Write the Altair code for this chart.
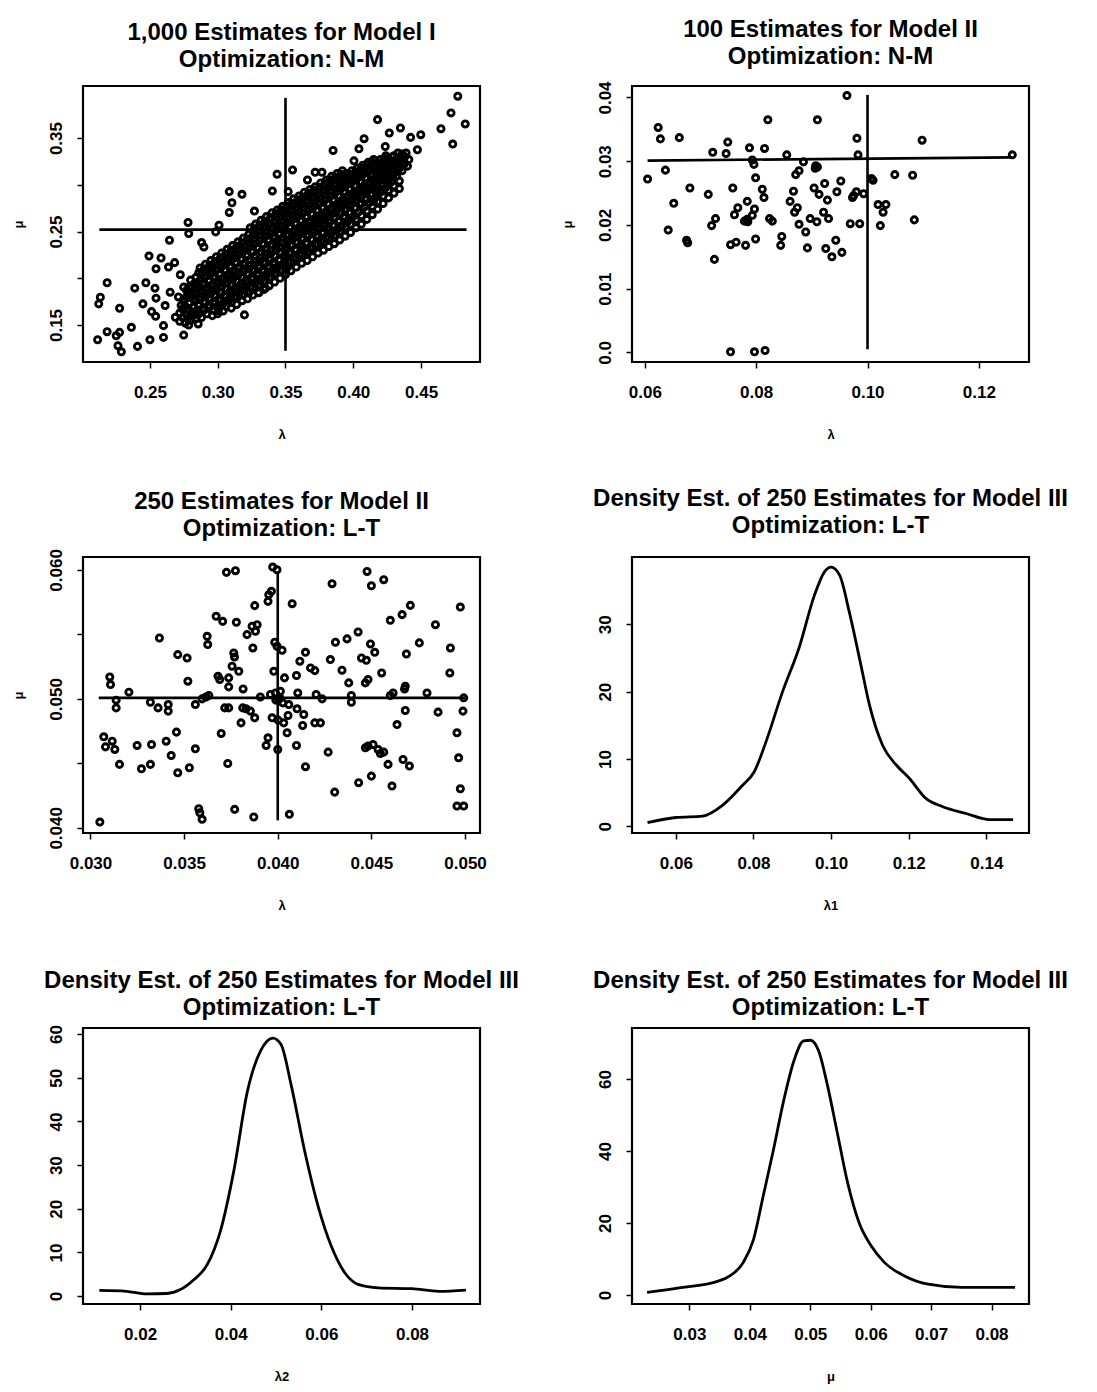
import altair as alt
import pandas as pd

FONT = "Liberation Sans"

# ---------------- Panel 1: 1,000 Estimates for Model I (lambda, mu) ----------------
p1_outliers = [
    (0.4771, 0.3948), (0.4721, 0.3769), (0.4826, 0.3651), (0.4647, 0.3600), (0.4734, 0.3436),
    (0.4179, 0.3697), (0.4348, 0.3608), (0.4266, 0.3554), (0.4498, 0.3536), (0.4423, 0.3507),
    (0.4473, 0.3375), (0.4080, 0.3493), (0.4236, 0.3410), (0.3851, 0.3367), (0.4042, 0.3385),
    (0.4005, 0.3256), (0.4149, 0.2826), (0.4204, 0.2944), (0.4167, 0.3016), (0.4366, 0.3285),
    (0.4279, 0.3213), (0.3552, 0.3159), (0.3438, 0.3113), (0.3403, 0.2934), (0.3179, 0.2898),
    (0.3085, 0.2927), (0.3105, 0.2808), (0.3520, 0.2927), (0.3662, 0.3052), (0.3719, 0.3134),
    (0.3769, 0.3134), (0.3968, 0.2640), (0.3271, 0.2719), (0.3085, 0.2704), (0.2781, 0.2597),
    (0.2786, 0.2478), (0.3010, 0.2568), (0.2644, 0.2407), (0.2881, 0.2382), (0.2493, 0.2238),
    (0.2582, 0.2217), (0.2545, 0.2102), (0.2637, 0.2120), (0.2682, 0.2167), (0.2724, 0.2038),
    (0.2749, 0.1905), (0.2184, 0.1952), (0.2134, 0.1797), (0.2122, 0.1726), (0.2388, 0.1894),
    (0.2470, 0.1952), (0.2537, 0.1894), (0.2545, 0.1787), (0.2448, 0.1726), (0.2512, 0.1643),
    (0.2542, 0.1593), (0.2276, 0.1679), (0.2612, 0.1708), (0.2687, 0.1582), (0.2786, 0.1500),
    (0.2363, 0.1475), (0.2276, 0.1421), (0.2251, 0.1385), (0.2184, 0.1428), (0.2114, 0.1342),
    (0.2264, 0.1278), (0.2289, 0.1213), (0.2408, 0.1271), (0.2500, 0.1342), (0.2600, 0.1493),
    (0.2600, 0.1367), (0.2749, 0.1392), (0.2856, 0.1511), (0.3005, 0.1654), (0.3197, 0.1608),
    (0.3229, 0.1844), (0.3303, 0.1844), (0.3353, 0.1894), (0.3010, 0.1762), (0.3507, 0.2102),
    (0.3632, 0.2317), (0.3719, 0.2496), (0.3794, 0.2586), (0.3881, 0.2747), (0.2649, 0.1851),
    (0.2898, 0.2335), (0.2985, 0.2496),
]

p1_core = [
    (0.272, 0.154), (0.272, 0.163), (0.273, 0.171), (0.271, 0.180),
    (0.276, 0.152), (0.277, 0.161), (0.276, 0.170), (0.275, 0.178), (0.277, 0.187),
    (0.280, 0.155), (0.281, 0.164), (0.279, 0.173), (0.280, 0.181), (0.281, 0.190), (0.280, 0.198),
    (0.284, 0.157), (0.285, 0.166), (0.283, 0.175), (0.284, 0.184), (0.285, 0.193), (0.284, 0.201),
    (0.288, 0.158), (0.289, 0.168), (0.287, 0.177), (0.288, 0.186), (0.289, 0.195), (0.288, 0.204), (0.287, 0.211),
    (0.292, 0.162), (0.293, 0.171), (0.291, 0.180), (0.292, 0.189), (0.293, 0.198), (0.292, 0.207), (0.291, 0.215),
    (0.296, 0.166), (0.297, 0.175), (0.295, 0.184), (0.296, 0.193), (0.297, 0.202), (0.296, 0.211), (0.295, 0.219),
    (0.300, 0.169), (0.301, 0.178), (0.299, 0.187), (0.300, 0.196), (0.301, 0.205), (0.300, 0.214), (0.299, 0.223),
    (0.304, 0.173), (0.305, 0.182), (0.303, 0.191), (0.304, 0.200), (0.305, 0.209), (0.304, 0.218), (0.303, 0.227),
    (0.308, 0.176), (0.309, 0.186), (0.307, 0.195), (0.308, 0.204), (0.309, 0.213), (0.308, 0.222), (0.307, 0.231),
    (0.312, 0.180), (0.313, 0.190), (0.311, 0.199), (0.312, 0.208), (0.313, 0.217), (0.312, 0.226), (0.311, 0.235),
    (0.316, 0.184), (0.317, 0.194), (0.315, 0.203), (0.316, 0.212), (0.317, 0.221), (0.316, 0.230), (0.315, 0.239),
    (0.320, 0.188), (0.321, 0.198), (0.319, 0.207), (0.320, 0.216), (0.321, 0.225), (0.320, 0.234), (0.319, 0.243),
    (0.324, 0.191), (0.325, 0.201), (0.323, 0.210), (0.324, 0.220), (0.325, 0.229), (0.324, 0.238), (0.323, 0.247), (0.324, 0.254),
    (0.328, 0.195), (0.329, 0.205), (0.327, 0.214), (0.328, 0.224), (0.329, 0.233), (0.328, 0.242), (0.327, 0.251), (0.328, 0.258),
    (0.332, 0.199), (0.333, 0.209), (0.331, 0.218), (0.332, 0.228), (0.333, 0.237), (0.332, 0.246), (0.331, 0.255), (0.332, 0.262),
    (0.336, 0.203), (0.337, 0.213), (0.335, 0.222), (0.336, 0.232), (0.337, 0.241), (0.336, 0.250), (0.335, 0.259), (0.336, 0.266),
    (0.340, 0.207), (0.341, 0.217), (0.339, 0.226), (0.340, 0.236), (0.341, 0.245), (0.340, 0.254), (0.339, 0.263), (0.340, 0.270),
    (0.344, 0.211), (0.345, 0.220), (0.343, 0.230), (0.344, 0.239), (0.345, 0.248), (0.344, 0.257), (0.343, 0.266), (0.344, 0.273),
    (0.348, 0.214), (0.349, 0.224), (0.347, 0.233), (0.348, 0.243), (0.349, 0.252), (0.348, 0.261), (0.347, 0.270), (0.348, 0.277),
    (0.352, 0.218), (0.353, 0.228), (0.351, 0.237), (0.352, 0.246), (0.353, 0.255), (0.352, 0.264), (0.351, 0.273), (0.352, 0.281),
    (0.356, 0.222), (0.357, 0.231), (0.355, 0.241), (0.356, 0.250), (0.357, 0.259), (0.356, 0.268), (0.355, 0.277), (0.356, 0.285),
    (0.360, 0.226), (0.361, 0.235), (0.359, 0.244), (0.360, 0.253), (0.361, 0.262), (0.360, 0.271), (0.359, 0.280), (0.360, 0.288),
    (0.364, 0.229), (0.365, 0.238), (0.363, 0.248), (0.364, 0.257), (0.365, 0.266), (0.364, 0.275), (0.363, 0.284), (0.364, 0.292),
    (0.368, 0.233), (0.369, 0.242), (0.367, 0.251), (0.368, 0.260), (0.369, 0.269), (0.368, 0.278), (0.367, 0.287), (0.368, 0.295),
    (0.372, 0.236), (0.373, 0.246), (0.371, 0.255), (0.372, 0.264), (0.373, 0.273), (0.372, 0.282), (0.371, 0.291), (0.372, 0.298),
    (0.376, 0.240), (0.377, 0.249), (0.375, 0.258), (0.376, 0.267), (0.377, 0.276), (0.376, 0.285), (0.375, 0.294), (0.376, 0.302),
    (0.380, 0.244), (0.381, 0.253), (0.379, 0.262), (0.380, 0.271), (0.381, 0.280), (0.380, 0.289), (0.379, 0.298), (0.380, 0.305),
    (0.384, 0.248), (0.385, 0.257), (0.383, 0.266), (0.384, 0.275), (0.385, 0.284), (0.384, 0.293), (0.383, 0.301), (0.384, 0.309),
    (0.388, 0.252), (0.389, 0.261), (0.387, 0.270), (0.388, 0.279), (0.389, 0.288), (0.388, 0.296), (0.387, 0.305), (0.388, 0.312),
    (0.392, 0.257), (0.393, 0.266), (0.391, 0.275), (0.392, 0.284), (0.393, 0.292), (0.392, 0.300), (0.391, 0.308), (0.392, 0.315),
    (0.396, 0.261), (0.397, 0.270), (0.395, 0.279), (0.396, 0.288), (0.397, 0.296), (0.396, 0.304), (0.395, 0.312),
    (0.400, 0.266), (0.401, 0.275), (0.399, 0.283), (0.400, 0.291), (0.401, 0.299), (0.400, 0.307), (0.399, 0.315),
    (0.404, 0.271), (0.405, 0.279), (0.403, 0.287), (0.404, 0.295), (0.405, 0.303), (0.404, 0.311), (0.403, 0.318),
    (0.408, 0.276), (0.409, 0.284), (0.407, 0.292), (0.408, 0.299), (0.409, 0.307), (0.408, 0.314), (0.407, 0.321),
    (0.412, 0.281), (0.413, 0.289), (0.411, 0.296), (0.412, 0.303), (0.413, 0.310), (0.412, 0.317), (0.411, 0.324),
    (0.416, 0.286), (0.417, 0.293), (0.415, 0.300), (0.416, 0.307), (0.417, 0.314), (0.416, 0.321), (0.415, 0.327),
    (0.420, 0.292), (0.421, 0.299), (0.419, 0.306), (0.420, 0.313), (0.421, 0.320), (0.420, 0.327),
    (0.424, 0.297), (0.425, 0.304), (0.423, 0.311), (0.424, 0.318), (0.425, 0.325), (0.424, 0.331),
    (0.428, 0.303), (0.429, 0.310), (0.427, 0.317), (0.428, 0.323), (0.429, 0.330),
    (0.432, 0.309), (0.433, 0.316), (0.431, 0.322), (0.432, 0.328), (0.433, 0.334),
    (0.436, 0.315), (0.437, 0.321), (0.435, 0.327), (0.436, 0.333),
    (0.440, 0.320), (0.441, 0.327), (0.439, 0.334),
]

p1_core_b = [
    (0.274, 0.158), (0.274, 0.167), (0.275, 0.175),
    (0.278, 0.157), (0.278, 0.166), (0.279, 0.174), (0.278, 0.183), (0.279, 0.191),
    (0.282, 0.160), (0.282, 0.169), (0.283, 0.178), (0.282, 0.186), (0.283, 0.195),
    (0.286, 0.162), (0.286, 0.171), (0.287, 0.180), (0.286, 0.189), (0.287, 0.198), (0.286, 0.206),
    (0.290, 0.166), (0.290, 0.175), (0.291, 0.184), (0.290, 0.193), (0.291, 0.202), (0.290, 0.210),
    (0.294, 0.169), (0.294, 0.178), (0.295, 0.188), (0.294, 0.197), (0.295, 0.206), (0.294, 0.214),
    (0.298, 0.173), (0.298, 0.182), (0.299, 0.191), (0.298, 0.200), (0.299, 0.209), (0.298, 0.218),
    (0.302, 0.176), (0.302, 0.185), (0.303, 0.195), (0.302, 0.204), (0.303, 0.213), (0.302, 0.222),
    (0.306, 0.180), (0.306, 0.189), (0.307, 0.199), (0.306, 0.208), (0.307, 0.217), (0.306, 0.226),
    (0.310, 0.183), (0.310, 0.193), (0.311, 0.203), (0.310, 0.212), (0.311, 0.221), (0.310, 0.230),
    (0.314, 0.187), (0.314, 0.197), (0.315, 0.206), (0.314, 0.216), (0.315, 0.225), (0.314, 0.234),
    (0.318, 0.191), (0.318, 0.201), (0.319, 0.210), (0.318, 0.220), (0.319, 0.229), (0.318, 0.238),
    (0.322, 0.195), (0.322, 0.205), (0.323, 0.214), (0.322, 0.224), (0.323, 0.233), (0.322, 0.242),
    (0.326, 0.199), (0.326, 0.209), (0.327, 0.218), (0.326, 0.228), (0.327, 0.237), (0.326, 0.246), (0.327, 0.253),
    (0.330, 0.203), (0.330, 0.213), (0.331, 0.222), (0.330, 0.232), (0.331, 0.241), (0.330, 0.250), (0.331, 0.257),
    (0.334, 0.207), (0.334, 0.217), (0.335, 0.226), (0.334, 0.236), (0.335, 0.245), (0.334, 0.254), (0.335, 0.261),
    (0.338, 0.211), (0.338, 0.221), (0.339, 0.230), (0.338, 0.240), (0.339, 0.249), (0.338, 0.258), (0.339, 0.265),
    (0.342, 0.215), (0.342, 0.224), (0.343, 0.234), (0.342, 0.243), (0.343, 0.252), (0.342, 0.261), (0.343, 0.269),
    (0.346, 0.219), (0.346, 0.228), (0.347, 0.238), (0.346, 0.247), (0.347, 0.256), (0.346, 0.265), (0.347, 0.273),
    (0.350, 0.222), (0.350, 0.232), (0.351, 0.241), (0.350, 0.251), (0.351, 0.260), (0.350, 0.269), (0.351, 0.277),
    (0.354, 0.226), (0.354, 0.236), (0.355, 0.245), (0.354, 0.254), (0.355, 0.263), (0.354, 0.272), (0.355, 0.280),
    (0.358, 0.230), (0.358, 0.239), (0.359, 0.249), (0.358, 0.258), (0.359, 0.267), (0.358, 0.276), (0.359, 0.284),
    (0.362, 0.234), (0.362, 0.243), (0.363, 0.252), (0.362, 0.261), (0.363, 0.270), (0.362, 0.279), (0.363, 0.287),
    (0.366, 0.237), (0.366, 0.247), (0.367, 0.256), (0.366, 0.265), (0.367, 0.274), (0.366, 0.283), (0.367, 0.291),
    (0.370, 0.241), (0.370, 0.250), (0.371, 0.259), (0.370, 0.268), (0.371, 0.277), (0.370, 0.286), (0.371, 0.294),
    (0.374, 0.245), (0.374, 0.254), (0.375, 0.263), (0.374, 0.272), (0.375, 0.281), (0.374, 0.290), (0.375, 0.297),
    (0.378, 0.248), (0.378, 0.257), (0.379, 0.266), (0.378, 0.275), (0.379, 0.284), (0.378, 0.293), (0.379, 0.301),
    (0.382, 0.252), (0.382, 0.261), (0.383, 0.270), (0.382, 0.279), (0.383, 0.288), (0.382, 0.297), (0.383, 0.305),
    (0.386, 0.256), (0.386, 0.265), (0.387, 0.274), (0.386, 0.283), (0.387, 0.292), (0.386, 0.300), (0.387, 0.308),
    (0.390, 0.261), (0.390, 0.270), (0.391, 0.279), (0.390, 0.288), (0.391, 0.296), (0.390, 0.304), (0.391, 0.311),
    (0.394, 0.265), (0.394, 0.274), (0.395, 0.283), (0.394, 0.292), (0.395, 0.300), (0.394, 0.308),
    (0.398, 0.270), (0.398, 0.279), (0.399, 0.287), (0.398, 0.295), (0.399, 0.303), (0.398, 0.311),
    (0.402, 0.275), (0.402, 0.283), (0.403, 0.291), (0.402, 0.299), (0.403, 0.307), (0.402, 0.314),
    (0.406, 0.280), (0.406, 0.288), (0.407, 0.296), (0.406, 0.303), (0.407, 0.311), (0.406, 0.318),
    (0.410, 0.285), (0.410, 0.293), (0.411, 0.300), (0.410, 0.307), (0.411, 0.314), (0.410, 0.321),
    (0.414, 0.290), (0.414, 0.297), (0.415, 0.304), (0.414, 0.311), (0.415, 0.318), (0.414, 0.324),
    (0.418, 0.295), (0.418, 0.302), (0.419, 0.309), (0.418, 0.316), (0.419, 0.323),
    (0.422, 0.300), (0.422, 0.307), (0.423, 0.314), (0.422, 0.321), (0.423, 0.328),
    (0.426, 0.306), (0.426, 0.313), (0.427, 0.320), (0.426, 0.327),
    (0.430, 0.312), (0.430, 0.319), (0.431, 0.325), (0.430, 0.331),
    (0.434, 0.318), (0.434, 0.324), (0.435, 0.330),
    (0.438, 0.323), (0.438, 0.330),
]

# lower edge of the dense band (the cloud is wider below its centre line)
p1_core_low = [
    (0.296, 0.160), (0.300, 0.162), (0.304, 0.165), (0.306, 0.170), (0.310, 0.168), (0.310, 0.174),
    (0.314, 0.172), (0.314, 0.179), (0.318, 0.176), (0.318, 0.182), (0.322, 0.178), (0.322, 0.186),
    (0.326, 0.182), (0.326, 0.190), (0.330, 0.185), (0.330, 0.193), (0.334, 0.188), (0.334, 0.197),
    (0.338, 0.192), (0.338, 0.201), (0.342, 0.196), (0.342, 0.205), (0.346, 0.200), (0.346, 0.209),
    (0.350, 0.204), (0.350, 0.213), (0.354, 0.208), (0.354, 0.217), (0.358, 0.212), (0.358, 0.221),
    (0.362, 0.216), (0.362, 0.225), (0.366, 0.219), (0.366, 0.228), (0.370, 0.223), (0.370, 0.232),
    (0.374, 0.227), (0.374, 0.236), (0.378, 0.230), (0.378, 0.239), (0.382, 0.234), (0.382, 0.243),
    (0.386, 0.237), (0.386, 0.246), (0.390, 0.241), (0.390, 0.250), (0.394, 0.245), (0.394, 0.254),
    (0.398, 0.249), (0.398, 0.258), (0.402, 0.254), (0.402, 0.263), (0.406, 0.258), (0.406, 0.267),
    (0.410, 0.263), (0.410, 0.272), (0.414, 0.268), (0.414, 0.277), (0.418, 0.274), (0.418, 0.282),
    (0.422, 0.280), (0.422, 0.288), (0.426, 0.286), (0.426, 0.294), (0.430, 0.291), (0.430, 0.299),
    (0.434, 0.296), (0.434, 0.304),
]
p1_rules = [(0.2127, 0.252, 0.4836, 0.252), (0.350, 0.1224, 0.350, 0.393)]

# ---------------- Panel 2: 100 Estimates for Model II, N-M ----------------
p2_points = [
    (0.0605, 0.0272), (0.0624, 0.0353), (0.0628, 0.0335), (0.0637, 0.0286), (0.0662, 0.0337),
    (0.0642, 0.0192), (0.0652, 0.0234), (0.0675, 0.0176), (0.0677, 0.0172), (0.0681, 0.0258),
    (0.0714, 0.0248), (0.0722, 0.0314), (0.0720, 0.0199), (0.0727, 0.0210), (0.0725, 0.0146),
    (0.0746, 0.0312), (0.0749, 0.0330), (0.0758, 0.0258), (0.0754, 0.0169), (0.0764, 0.0173),
    (0.0761, 0.0216), (0.0767, 0.0227), (0.0781, 0.0168), (0.0784, 0.0237), (0.0779, 0.0206),
    (0.0785, 0.0205), (0.0788, 0.0321), (0.0793, 0.0302), (0.0796, 0.0295), (0.0799, 0.0274),
    (0.0797, 0.0225), (0.0793, 0.0215), (0.0799, 0.0178), (0.0815, 0.0320), (0.0821, 0.0365),
    (0.0811, 0.0256), (0.0814, 0.0243), (0.0824, 0.0210), (0.0829, 0.0206), (0.0846, 0.0182),
    (0.0844, 0.0168), (0.0855, 0.0310), (0.0861, 0.0237), (0.0867, 0.0253), (0.0869, 0.0220),
    (0.0874, 0.0227), (0.0871, 0.0279), (0.0877, 0.0285), (0.0877, 0.0201), (0.0885, 0.0299),
    (0.0889, 0.0189), (0.0892, 0.0164), (0.0897, 0.0210), (0.0904, 0.0258), (0.0907, 0.0293),
    (0.0910, 0.0365), (0.0909, 0.0205), (0.0913, 0.0248), (0.0921, 0.0220), (0.0923, 0.0265),
    (0.0925, 0.0163), (0.0928, 0.0239), (0.0930, 0.0210), (0.0936, 0.0150), (0.0943, 0.0176),
    (0.0945, 0.0252), (0.0952, 0.0269), (0.0954, 0.0157), (0.0963, 0.0403), (0.0969, 0.0202),
    (0.0973, 0.0243), (0.0980, 0.0252), (0.0981, 0.0336), (0.0983, 0.0310), (0.0986, 0.0202),
    (0.0993, 0.0249), (0.1007, 0.0273), (0.1010, 0.0270), (0.1019, 0.0232), (0.1023, 0.0199),
    (0.1028, 0.0220), (0.1033, 0.0232), (0.1049, 0.0279), (0.1081, 0.0278), (0.1084, 0.0208),
    (0.1098, 0.0333), (0.1260, 0.0310), (0.0754, 0.0001), (0.0797, 0.0001), (0.0816, 0.0003),
    (0.0906, 0.0289), (0.0910, 0.0291), (0.0975, 0.0246), (0.0784, 0.0209),
]
p2_rules = [(0.0605, 0.0301, 0.1260, 0.0306), (0.1000, 0.0005, 0.1000, 0.0404)]

# ---------------- Panel 3: 250 Estimates for Model II, L-T ----------------
p3_points = [
    (0.03726, 0.05981), (0.03774, 0.05994), (0.03973, 0.06022), (0.03996, 0.06001), (0.04477, 0.05988),
    (0.04500, 0.05877), (0.04566, 0.05924), (0.04290, 0.05893), (0.03948, 0.05756), (0.03966, 0.05834),
    (0.03952, 0.05808), (0.04077, 0.05738), (0.03877, 0.05723), (0.03671, 0.05640), (0.03706, 0.05601),
    (0.03779, 0.05594), (0.03836, 0.05498), (0.03863, 0.05563), (0.03890, 0.05575), (0.03881, 0.05524),
    (0.03867, 0.05395), (0.03623, 0.05485), (0.03626, 0.05421), (0.03368, 0.05472), (0.03466, 0.05343),
    (0.03516, 0.05317), (0.03520, 0.05137), (0.03765, 0.05356), (0.03769, 0.05325), (0.03756, 0.05253),
    (0.03792, 0.05214), (0.03738, 0.05163), (0.03681, 0.05175), (0.03690, 0.05150), (0.03738, 0.05093),
    (0.03815, 0.05077), (0.03984, 0.05439), (0.03996, 0.05408), (0.04023, 0.05377), (0.03979, 0.05214),
    (0.04036, 0.05163), (0.04100, 0.05181), (0.04148, 0.05361), (0.04118, 0.05292), (0.04175, 0.05240),
    (0.04198, 0.05219), (0.04281, 0.05305), (0.04308, 0.05439), (0.04370, 0.05465), (0.04343, 0.05222),
    (0.04379, 0.05124), (0.04429, 0.05519), (0.04447, 0.05317), (0.04473, 0.05299), (0.04495, 0.05426),
    (0.04518, 0.05361), (0.04468, 0.05124), (0.04482, 0.05150), (0.04555, 0.05201), (0.04601, 0.05609),
    (0.04664, 0.05653), (0.04708, 0.05725), (0.04756, 0.05434), (0.04687, 0.05348), (0.04842, 0.05575),
    (0.04922, 0.05395), (0.04975, 0.05712), (0.04919, 0.05201), (0.04681, 0.05098), (0.04677, 0.05077),
    (0.03103, 0.05170), (0.03107, 0.05111), (0.03205, 0.05052), (0.03137, 0.04990), (0.03137, 0.04930),
    (0.03320, 0.04974), (0.03361, 0.04930), (0.03415, 0.04956), (0.03415, 0.04905), (0.03560, 0.04956),
    (0.03596, 0.05000), (0.03617, 0.05015), (0.03632, 0.05026), (0.03813, 0.04930), (0.03831, 0.04923),
    (0.03854, 0.04905), (0.03877, 0.04853), (0.03804, 0.04814), (0.03717, 0.04930), (0.03738, 0.04930),
    (0.03907, 0.05015), (0.03961, 0.05034), (0.03988, 0.05046), (0.04014, 0.05059), (0.04005, 0.04995),
    (0.04027, 0.04969), (0.03970, 0.04853), (0.04002, 0.04835), (0.04032, 0.04814), (0.04059, 0.04956),
    (0.04055, 0.04871), (0.04050, 0.04737), (0.04103, 0.04923), (0.04139, 0.04879), (0.04133, 0.04794),
    (0.04107, 0.05046), (0.04205, 0.05034), (0.04237, 0.05000), (0.04198, 0.04814), (0.04228, 0.04814),
    (0.04393, 0.05026), (0.04393, 0.04974), (0.04601, 0.05026), (0.04616, 0.05046), (0.04681, 0.04910),
    (0.04797, 0.05046), (0.04856, 0.04897), (0.04993, 0.05008), (0.04989, 0.04905), (0.04637, 0.04801),
    (0.03948, 0.04698), (0.03938, 0.04639), (0.04000, 0.04608), (0.03990, 0.04990), (0.04010, 0.05010),
    (0.03071, 0.04706), (0.03080, 0.04628), (0.03116, 0.04672), (0.03130, 0.04608), (0.03155, 0.04492),
    (0.03249, 0.04639), (0.03326, 0.04646), (0.03272, 0.04458), (0.03320, 0.04492), (0.03404, 0.04672),
    (0.03431, 0.04561), (0.03459, 0.04742), (0.03466, 0.04427), (0.03528, 0.04466), (0.03560, 0.04613),
    (0.03698, 0.04732), (0.03733, 0.04499), (0.04100, 0.04639), (0.04148, 0.04474), (0.04269, 0.04587),
    (0.04468, 0.04621), (0.04482, 0.04634), (0.04509, 0.04646), (0.04536, 0.04608), (0.04566, 0.04587),
    (0.04548, 0.04577), (0.04589, 0.04492), (0.04669, 0.04530), (0.04703, 0.04479), (0.04432, 0.04350),
    (0.04500, 0.04401), (0.04610, 0.04324), (0.04304, 0.04277), (0.04957, 0.04737), (0.04966, 0.04543),
    (0.04975, 0.04303), (0.04957, 0.04169), (0.04993, 0.04169), (0.03050, 0.04045), (0.03578, 0.04148),
    (0.03584, 0.04117), (0.03596, 0.04066), (0.03770, 0.04143), (0.03872, 0.04084), (0.04062, 0.04105),
]
p3_rules = [(0.03044, 0.05008, 0.05000, 0.05008), (0.04000, 0.04058, 0.04000, 0.05988)]

# ---------------- Panels 4-6: density estimates (Model III, L-T) ----------------
p4_x = [0.0527, 0.0600, 0.0669, 0.0720, 0.0772, 0.0802, 0.0832, 0.0875, 0.0918, 0.0957, 0.0983,
        0.1000, 0.1022, 0.1047, 0.1077, 0.1099, 0.1133, 0.1168, 0.1202, 0.1245, 0.1288, 0.1348,
        0.1409, 0.1469]
p4_y = [0.54, 1.3, 1.5, 3.1, 6.1, 8.1, 12.5, 20.0, 26.6, 34.3, 37.8, 38.5, 37.3, 31.8, 23.9, 18.0,
        12.0, 9.1, 7.1, 4.1, 2.9, 1.9, 1.0, 1.0]

p5_x = [0.0110, 0.0170, 0.0215, 0.0259, 0.0289, 0.0319, 0.0348, 0.0378, 0.0407, 0.0437, 0.0467,
        0.0493, 0.0511, 0.0533, 0.0563, 0.0593, 0.0622, 0.0652, 0.0681, 0.0726, 0.0800, 0.0859,
        0.0919]
p5_y = [1.3, 1.1, 0.5, 0.6, 1.5, 3.8, 7.2, 15.2, 28.8, 47.0, 56.4, 59.1, 57.6, 48.5, 33.3, 20.5,
        11.4, 5.3, 2.7, 1.9, 1.7, 1.1, 1.4]

p6_x = [0.0230, 0.0289, 0.0345, 0.0367, 0.0389, 0.0406, 0.0422, 0.0439, 0.0456, 0.0473, 0.0489,
        0.0500, 0.0514, 0.0528, 0.0545, 0.0562, 0.0581, 0.0601, 0.0623, 0.0656, 0.0695, 0.0751,
        0.0839]
p6_y = [0.7, 2.1, 3.7, 5.3, 9.0, 15.4, 27.4, 40.3, 54.0, 65.1, 70.6, 70.8, 67.8, 58.6, 44.9, 31.1,
        20.0, 13.6, 9.0, 5.3, 3.0, 2.1, 2.1]

# ---------------- titles / ticks ----------------
titles = [
    ["1,000 Estimates for Model I", "Optimization: N-M"],
    ["100 Estimates for Model II", "Optimization: N-M"],
    ["250 Estimates for Model II", "Optimization: L-T"],
    ["Density Est. of 250 Estimates for Model III", "Optimization: L-T"],
    ["Density Est. of 250 Estimates for Model III", "Optimization: L-T"],
    ["Density Est. of 250 Estimates for Model III", "Optimization: L-T"],
]

p1_xt, p1_xl = [0.25, 0.30, 0.35, 0.40, 0.45], ["0.25", "0.30", "0.35", "0.40", "0.45"]
p1_yt, p1_yl = [0.15, 0.20, 0.25, 0.30, 0.35], ["0.15", "", "0.25", "", "0.35"]
p2_xt, p2_xl = [0.06, 0.08, 0.10, 0.12], ["0.06", "0.08", "0.10", "0.12"]
p2_yt, p2_yl = [0.0, 0.01, 0.02, 0.03, 0.04], ["0.0", "0.01", "0.02", "0.03", "0.04"]
p3_xt, p3_xl = [0.030, 0.035, 0.040, 0.045, 0.050], ["0.030", "0.035", "0.040", "0.045", "0.050"]
p3_yt, p3_yl = [0.040, 0.045, 0.050, 0.055, 0.060], ["0.040", "", "0.050", "", "0.060"]
p4_xt, p4_xl = [0.06, 0.08, 0.10, 0.12, 0.14], ["0.06", "0.08", "0.10", "0.12", "0.14"]
p4_yt, p4_yl = [0, 10, 20, 30], ["0", "10", "20", "30"]
p5_xt, p5_xl = [0.02, 0.04, 0.06, 0.08], ["0.02", "0.04", "0.06", "0.08"]
p5_yt, p5_yl = [0, 10, 20, 30, 40, 50, 60], ["0", "10", "20", "30", "40", "50", "60"]
p6_xt, p6_xl = [0.03, 0.04, 0.05, 0.06, 0.07, 0.08], ["0.03", "0.04", "0.05", "0.06", "0.07", "0.08"]
p6_yt, p6_yl = [0, 20, 40, 60], ["0", "20", "40", "60"]

W, H = 397, 276


def label_expr(ticks, labels):
    parts = [f"abs(datum.value - ({t})) < 1e-9 ? '{l}'" for t, l in zip(ticks, labels)]
    return " : ".join(parts) + " : ''"


def panel(title, title_dy, xdom, ydom, xt, xl, yt, yl, xtitle, ytitle,
          points=None, rules=None, curve=None):
    xaxis = alt.Axis(values=xt, labelExpr=label_expr(xt, xl), title=xtitle,
                     labelPadding=16, titlePadding=28)
    yaxis = alt.Axis(values=yt, labelExpr=label_expr(yt, yl), title=ytitle,
                     labelAngle=270, labelAlign="center", labelBaseline="alphabetic",
                     labelPadding=16, titlePadding=22)
    xenc = alt.X("x:Q", scale=alt.Scale(domain=xdom, nice=False, zero=False), axis=xaxis)
    yenc = alt.Y("y:Q", scale=alt.Scale(domain=ydom, nice=False, zero=False), axis=yaxis)
    layers = []
    if rules is not None:
        rdf = pd.DataFrame(rules, columns=["x", "y", "x2", "y2"])
        layers.append(alt.Chart(rdf).mark_rule(color="black", strokeWidth=2.6).encode(
            x=xenc, y=yenc, x2="x2:Q", y2="y2:Q"))
    if points is not None:
        pdf = pd.DataFrame(points, columns=["x", "y"])
        layers.append(alt.Chart(pdf).mark_point(shape="circle", filled=False, size=38,
                                                strokeWidth=2.9, color="black", opacity=1).encode(
            x=xenc, y=yenc))
    if curve is not None:
        cdf = pd.DataFrame({"x": curve[0], "y": curve[1]})
        layers.append(alt.Chart(cdf).mark_line(color="black", strokeWidth=2.8,
                                               interpolate="monotone").encode(x=xenc, y=yenc))
    return alt.layer(*layers).properties(
        width=W, height=H,
        title=alt.TitleParams(text=title, font=FONT, fontSize=24, fontWeight="bold",
                              color="black", anchor="middle", frame="group",
                              offset=12, lineHeight=27, dy=title_dy),
    )


c1 = panel(titles[0], -2, [0.2006, 0.4935], [0.1104, 0.4057], p1_xt, p1_xl, p1_yt, p1_yl,
           "λ", "μ", points=p1_outliers + p1_core + p1_core_b + p1_core_low, rules=p1_rules)
c2 = panel(titles[1], 0, [0.0577, 0.1290], [-0.0015, 0.0418], p2_xt, p2_xl, p2_yt, p2_yl,
           "λ", "μ", points=p2_points, rules=p2_rules)
c3 = panel(titles[2], 4, [0.0296, 0.0508], [0.0396, 0.0610], p3_xt, p3_xl, p3_yt, p3_yl,
           "λ", "μ", points=p3_points, rules=p3_rules)
c4 = panel(titles[3], -7, [0.0487, 0.1510], [-1.0, 40.0], p4_xt, p4_xl, p4_yt, p4_yl,
           "λ1", None, curve=(p4_x, p4_y))
c5 = panel(titles[4], 7, [0.0074, 0.0950], [-1.8, 61.4], p5_xt, p5_xl, p5_yt, p5_yl,
           "λ2", None, curve=(p5_x, p5_y))
c6 = panel(titles[5], 4, [0.0205, 0.0862], [-2.5, 74.2], p6_xt, p6_xl, p6_yt, p6_yl,
           "μ", None, curve=(p6_x, p6_y))

chart = alt.ConcatChart(
    concat=[c1, c2, c3, c4, c5, c6], columns=2,
    spacing={"row": 195, "column": 152}, bounds="flush",
).properties(
    padding={"left": 2, "top": 8, "right": 5, "bottom": 5},
).configure_view(
    stroke="black", strokeWidth=2.2,
).configure_axis(
    domain=False, grid=False,
    tickColor="black", tickSize=6, tickWidth=1.5,
    labelFont=FONT, labelFontSize=17, labelFontWeight="bold", labelColor="black",
    labelOverlap=False, labelFlush=False,
    titleFont=FONT, titleFontSize=13, titleFontWeight="bold", titleColor="black",
)

chart.save("out.html", embed_options={"renderer": "svg", "actions": False})
